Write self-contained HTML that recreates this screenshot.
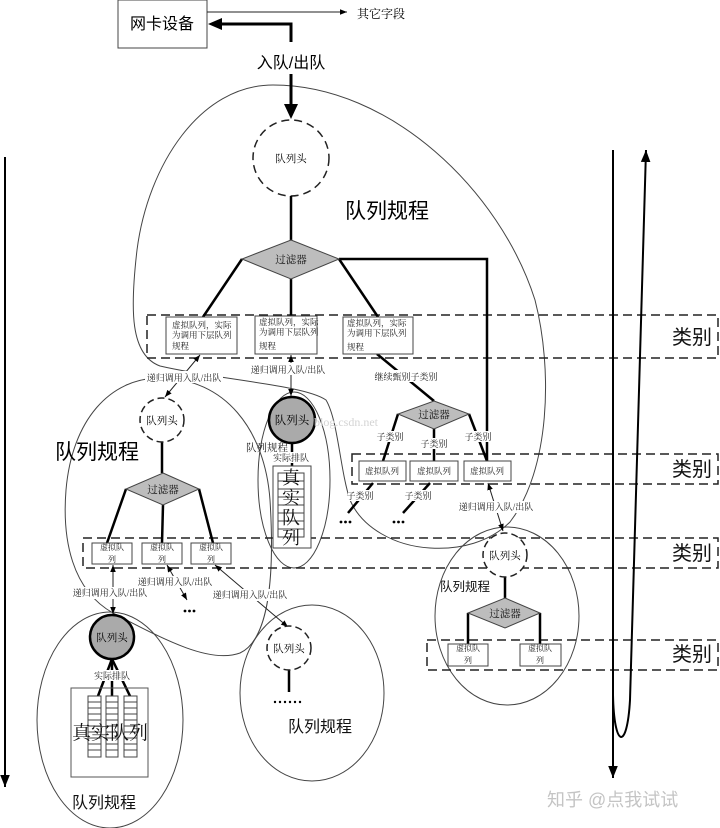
<!DOCTYPE html>
<html><head><meta charset="utf-8"><style>
html,body{margin:0;padding:0;background:#fff;}
svg{display:block;}
.s{font-family:"Liberation Serif","Noto Serif CJK SC",serif;}
.h{font-family:"Liberation Sans","Noto Sans CJK SC",sans-serif;}
</style></head><body>
<svg width="720" height="828" viewBox="0 0 720 828" xmlns="http://www.w3.org/2000/svg">
<defs>
<marker id="ar" viewBox="0 0 10 10" refX="10" refY="5" markerWidth="7" markerHeight="7" markerUnits="userSpaceOnUse" orient="auto-start-reverse"><path d="M0,1L10,5L0,9z" fill="#000"/></marker>
<marker id="ab" viewBox="0 0 10 10" refX="10" refY="5" markerWidth="12" markerHeight="12" markerUnits="userSpaceOnUse" orient="auto"><path d="M0,1L10,5L0,9z" fill="#000"/></marker>
</defs>
<rect width="720" height="828" fill="#fff"/>

<!-- blobs / ellipses -->
<g fill="none" stroke="#444" stroke-width="1">
<path d="M273,85 C390,85 500,190 535,300 C553,370 550,470 510,522 C490,542 460,550 430,548 C395,546 362,528 350,500 C340,470 338,420 326,400 C305,385 220,380 160,366 C130,355 130,310 137,250 C148,165 200,85 273,85 Z"/>
<path d="M160,378 C225,378 265,430 270,500 C275,580 268,640 240,653 C210,664 165,640 113,613 C72,590 62,540 66,490 C72,420 110,378 160,378 Z"/>
<ellipse cx="294" cy="480" rx="36" ry="88"/>
<ellipse cx="110" cy="720" rx="73" ry="108"/>
<ellipse cx="312" cy="693" rx="72" ry="88"/>
<ellipse cx="507" cy="616" rx="72" ry="89"/>
</g>

<!-- dashed bands -->
<g fill="none" stroke="#222" stroke-width="1.5" stroke-dasharray="9,5">
<rect x="147" y="315" width="571" height="43"/>
<rect x="352" y="454" width="366" height="30"/>
<rect x="83" y="538" width="635" height="30"/>
<rect x="427" y="640" width="291" height="30"/>
</g>
<g class="h" font-size="20" fill="#111">
<text x="672" y="344">类别</text>
<text x="672" y="476">类别</text>
<text x="672" y="560">类别</text>
<text x="672" y="661">类别</text>
</g>

<!-- side arrows -->
<line x1="5" y1="157" x2="5" y2="787" stroke="#000" stroke-width="2" marker-end="url(#ab)"/>
<line x1="613" y1="150" x2="613" y2="778" stroke="#000" stroke-width="2" marker-end="url(#ab)"/>
<path d="M613,695 C614,748 627,752 630,700 L646,150" fill="none" stroke="#000" stroke-width="2" marker-end="url(#ab)"/>

<!-- top -->
<rect x="118" y="0" width="89" height="48" fill="#fff" stroke="#444" stroke-width="1"/>
<text class="h" x="162" y="29" font-size="16" text-anchor="middle">网卡设备</text>
<line x1="207" y1="12" x2="347" y2="12" stroke="#222" stroke-width="1" marker-end="url(#ar)"/>
<text class="s" x="357" y="18" font-size="12">其它字段</text>
<polyline points="291,42 291,24 221,24" fill="none" stroke="#000" stroke-width="3"/>
<polygon points="208,24 222,18 222,30" fill="#000"/>
<text class="h" x="291" y="68" font-size="16" text-anchor="middle">入队/出队</text>
<line x1="291" y1="74" x2="291" y2="106" stroke="#000" stroke-width="3"/>
<polygon points="291,119 284,104 298,104" fill="#000"/>

<circle cx="291" cy="158" r="38" fill="#fff" stroke="#222" stroke-width="1.5" stroke-dasharray="8,5"/>
<text class="s" x="291" y="162" font-size="10.5" text-anchor="middle">队列头</text>
<text class="h" x="345" y="218" font-size="21">队列规程</text>

<!-- top tree lines -->
<g stroke="#000" stroke-width="2.5" fill="none">
<line x1="291" y1="196" x2="291" y2="240"/>
<line x1="242" y1="259" x2="203" y2="317"/>
<line x1="291" y1="279" x2="291" y2="316"/>
<line x1="339" y1="259" x2="378" y2="317"/>
<polyline points="339,259 487,259 487,461"/>
<line x1="377" y1="354" x2="434" y2="401"/>
<line x1="398" y1="414" x2="383" y2="461"/>
<line x1="434" y1="429" x2="434" y2="461"/>
<line x1="469" y1="414" x2="487" y2="461"/>
<line x1="373" y1="483" x2="348" y2="513"/>
<line x1="430" y1="483" x2="403" y2="513"/>
<line x1="162" y1="442" x2="162" y2="473"/>
<line x1="126" y1="489" x2="107" y2="543"/>
<line x1="163" y1="505" x2="162" y2="543"/>
<line x1="199" y1="489" x2="213" y2="543"/>
<line x1="292" y1="443" x2="292" y2="473"/>
<line x1="112" y1="659" x2="98" y2="696"/>
<line x1="112" y1="659" x2="112" y2="696"/>
<line x1="112" y1="659" x2="130" y2="696"/>
<line x1="289" y1="670" x2="289" y2="692"/>
<line x1="505" y1="577" x2="505" y2="598"/>
<polyline points="468,613 468,644"/>
<polyline points="540,613 540,644"/>
</g>

<!-- diamonds -->
<g fill="#bdbdbd" stroke="#444" stroke-width="1">
<polygon points="291,240 339,259 291,279 242,259"/>
<polygon points="434,401 469,414 434,429 398,414"/>
<polygon points="163,473 199,489 163,505 126,489"/>
<polygon points="505,598 540,613 505,628 468,613"/>
</g>
<g class="s" font-size="10.5" text-anchor="middle" fill="#111">
<text x="291" y="263">过滤器</text>
<text x="434" y="418">过滤器</text>
<text x="163" y="493">过滤器</text>
<text x="505" y="617">过滤器</text>
</g>

<!-- boxes -->
<g fill="#fff" stroke="#444" stroke-width="1">
<rect x="166" y="317" width="71" height="37"/>
<rect x="255" y="316" width="62" height="38"/>
<rect x="343" y="317" width="70" height="37"/>
<rect x="359" y="461" width="47" height="20"/>
<rect x="410" y="461" width="48" height="20"/>
<rect x="464" y="461" width="47" height="20"/>
<rect x="92" y="543" width="40" height="21"/>
<rect x="142" y="543" width="40" height="21"/>
<rect x="191" y="543" width="40" height="21"/>
<rect x="448" y="644" width="40" height="22"/>
<rect x="520" y="644" width="41" height="22"/>
</g>
<g class="s" font-size="8.5" fill="#222">
<text x="172" y="328">虚拟队列，实际</text>
<text x="172" y="338">为调用下层队列</text>
<text x="172" y="349">规程</text>
<text x="259" y="325">虚拟队列，实际</text>
<text x="259" y="335">为调用下层队列</text>
<text x="259" y="349">规程</text>
<text x="347" y="326">虚拟队列，实际</text>
<text x="347" y="336">为调用下层队列</text>
<text x="347" y="350">规程</text>
</g>
<g class="s" font-size="8.5" fill="#222" text-anchor="middle">
<text x="382" y="474">虚拟队列</text>
<text x="434" y="474">虚拟队列</text>
<text x="487" y="474">虚拟队列</text>
</g>
<g class="s" font-size="8" fill="#222" text-anchor="middle">
<text x="112" y="550">虚拟队</text><text x="112" y="562">列</text>
<text x="162" y="550">虚拟队</text><text x="162" y="562">列</text>
<text x="211" y="550">虚拟队</text><text x="211" y="562">列</text>
<text x="468" y="651">虚拟队</text><text x="468" y="663">列</text>
<text x="540" y="651">虚拟队</text><text x="540" y="663">列</text>
</g>

<!-- labels with background -->
<g fill="#fff">
<rect x="373" y="370" width="66" height="12"/>
<rect x="378" y="431" width="25" height="11"/>
<rect x="422" y="438" width="25" height="11"/>
<rect x="466" y="431" width="25" height="11"/>
<rect x="348" y="490" width="25" height="11"/>
<rect x="406" y="490" width="25" height="11"/>
<rect x="273" y="452" width="37" height="11"/>
<rect x="93" y="670" width="38" height="11"/>
</g>
<g class="s" font-size="9" fill="#222" text-anchor="middle">
<text x="406" y="380">继续甄别子类别</text>
<text x="390" y="440">子类别</text>
<text x="434" y="447">子类别</text>
<text x="478" y="440">子类别</text>
<text x="360" y="499">子类别</text>
<text x="418" y="499">子类别</text>
<text x="291" y="461">实际排队</text>
<text x="112" y="679">实际排队</text>
</g>

<!-- dots -->
<g fill="#000">
<circle cx="341" cy="522" r="1.4"/><circle cx="345.5" cy="522" r="1.4"/><circle cx="350" cy="522" r="1.4"/>
<circle cx="394" cy="522" r="1.4"/><circle cx="398.5" cy="522" r="1.4"/><circle cx="403" cy="522" r="1.4"/>
<circle cx="185" cy="611" r="1.4"/><circle cx="189.5" cy="611" r="1.4"/><circle cx="194" cy="611" r="1.4"/>
<circle cx="275" cy="702" r="1.2"/><circle cx="280" cy="702" r="1.2"/><circle cx="285" cy="702" r="1.2"/><circle cx="290" cy="702" r="1.2"/><circle cx="295" cy="702" r="1.2"/><circle cx="300" cy="702" r="1.2"/>
</g>

<!-- recursive call arrows -->
<g stroke="#222" stroke-width="1" fill="none" marker-start="url(#ar)" marker-end="url(#ar)">
<line x1="200" y1="355" x2="165" y2="397"/>
<line x1="291" y1="355" x2="291" y2="396"/>
<line x1="488" y1="483" x2="503" y2="531"/>
<line x1="113" y1="565" x2="113" y2="614"/>
<line x1="167" y1="565" x2="187" y2="600"/>
<line x1="215" y1="565" x2="288" y2="627"/>
</g>
<g fill="#fff">
<rect x="250" y="363" width="76" height="12"/>
<rect x="145" y="371" width="78" height="12"/>
<rect x="458" y="501" width="76" height="12"/>
<rect x="72" y="587" width="76" height="12"/>
<rect x="136" y="576" width="78" height="12"/>
<rect x="212" y="589" width="76" height="12"/>
</g>
<g class="s" font-size="9" fill="#222" text-anchor="middle">
<text x="288" y="373">递归调用入队/出队</text>
<text x="184" y="381">递归调用入队/出队</text>
<text x="496" y="510">递归调用入队/出队</text>
<text x="110" y="596">递归调用入队/出队</text>
<text x="175" y="585">递归调用入队/出队</text>
<text x="250" y="598">递归调用入队/出队</text>
</g>

<!-- left subtree -->
<circle cx="162" cy="420" r="22" fill="#fff" stroke="#222" stroke-width="1.5" stroke-dasharray="7,4"/>
<text class="s" x="162" y="424" font-size="10.5" text-anchor="middle">队列头</text>
<text class="h" x="55" y="459" font-size="21">队列规程</text>

<!-- middle real queue -->
<circle cx="292" cy="420" r="23" fill="#aaa" stroke="#000" stroke-width="2.5"/>
<text class="s" x="292" y="424" font-size="11.5" text-anchor="middle">队列头</text>
<text class="s" x="246" y="451" font-size="10.5" fill="#222">队列规程</text>
<rect x="273" y="466" width="38" height="82" fill="#fff" stroke="#444" stroke-width="1"/>
<rect x="278" y="473" width="26" height="64" fill="#fff" stroke="#444" stroke-width="1"/>
<g stroke="#444" stroke-width="1">
<line x1="278" y1="481" x2="304" y2="481"/><line x1="278" y1="489" x2="304" y2="489"/>
<line x1="278" y1="497" x2="304" y2="497"/><line x1="278" y1="505" x2="304" y2="505"/>
<line x1="278" y1="513" x2="304" y2="513"/><line x1="278" y1="521" x2="304" y2="521"/>
<line x1="278" y1="529" x2="304" y2="529"/>
</g>
<g class="s" font-size="18" text-anchor="middle" fill="#111">
<text x="291" y="484">真</text><text x="291" y="504">实</text>
<text x="291" y="524">队</text><text x="291" y="544">列</text>
</g>

<!-- bottom-left real queue -->
<circle cx="112" cy="637" r="22" fill="#aaa" stroke="#000" stroke-width="2.5"/>
<text class="s" x="112" y="641" font-size="10.5" text-anchor="middle">队列头</text>
<rect x="71" y="688" width="77" height="89" fill="none" stroke="#555" stroke-width="1"/>
<g fill="#fff" stroke="#444" stroke-width="1">
<rect x="88" y="696" width="13" height="61"/>
<rect x="106" y="696" width="12" height="61"/>
<rect x="124" y="696" width="13" height="61"/>
</g>
<g stroke="#444" stroke-width="1">
<line x1="88" y1="702" x2="137" y2="702" stroke-dasharray="13,5,12,6,13"/>
<line x1="88" y1="708" x2="137" y2="708" stroke-dasharray="13,5,12,6,13"/>
<line x1="88" y1="714" x2="137" y2="714" stroke-dasharray="13,5,12,6,13"/>
<line x1="88" y1="720" x2="137" y2="720" stroke-dasharray="13,5,12,6,13"/>
<line x1="88" y1="726" x2="137" y2="726" stroke-dasharray="13,5,12,6,13"/>
<line x1="88" y1="732" x2="137" y2="732" stroke-dasharray="13,5,12,6,13"/>
<line x1="88" y1="738" x2="137" y2="738" stroke-dasharray="13,5,12,6,13"/>
<line x1="88" y1="744" x2="137" y2="744" stroke-dasharray="13,5,12,6,13"/>
<line x1="88" y1="750" x2="137" y2="750" stroke-dasharray="13,5,12,6,13"/>
</g>
<text class="s" x="110" y="739" font-size="19" text-anchor="middle" fill="#111">真实队列</text>
<text class="h" x="72" y="808" font-size="16" fill="#111">队列规程</text>

<!-- bottom-middle -->
<circle cx="289" cy="648" r="22" fill="#fff" stroke="#222" stroke-width="1.5" stroke-dasharray="7,4"/>
<text class="s" x="289" y="652" font-size="10.5" text-anchor="middle">队列头</text>
<text class="h" x="288" y="732" font-size="16" fill="#111">队列规程</text>

<!-- right subtree -->
<circle cx="505" cy="555" r="22" fill="#fff" stroke="#222" stroke-width="1.5" stroke-dasharray="7,4"/>
<text class="s" x="505" y="559" font-size="10.5" text-anchor="middle">队列头</text>
<text class="h" x="440" y="591" font-size="12.5" fill="#111">队列规程</text>

<!-- watermarks -->
<text x="314" y="426" font-family="Liberation Serif, serif" font-size="12" fill="#d4d4d4">blog.csdn.net</text>
<text class="h" x="547" y="806" font-size="18" fill="#c4c4c4">知乎 @点我试试</text>
</svg>
</body></html>
